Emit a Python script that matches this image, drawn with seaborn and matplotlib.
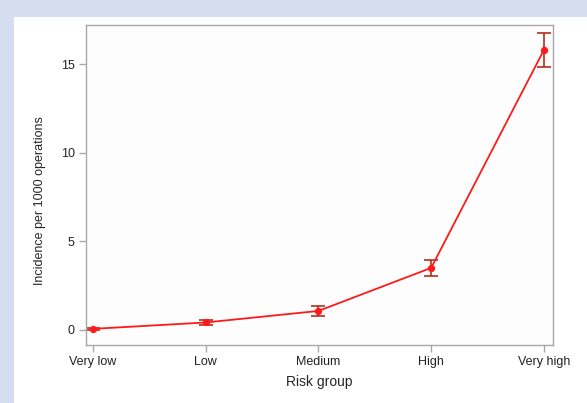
import numpy as np
import pandas as pd
import matplotlib
matplotlib.use("Agg")
import matplotlib.pyplot as plt
from matplotlib.patches import Rectangle
import seaborn as sns

# values
groups = ["Very low", "Low", "Medium", "High", "Very high"]
incidence = [0.06, 0.42, 1.07, 3.5, 15.8]
ci_low = [0.01, 0.30, 0.80, 3.07, 14.85]
ci_high = [0.11, 0.55, 1.35, 3.97, 16.75]

sns.set_style("white")
plt.rcParams["font.family"] = ["Liberation Sans", "DejaVu Sans"]

df = pd.DataFrame({"pos": np.arange(len(groups)), "rate": incidence})

fig = plt.figure(figsize=(5.87, 4.03), dpi=100)
fig.patch.set_facecolor("#d5ddef")
# white panel behind the chart
fig.patches.append(Rectangle((14 / 587, 0), 1, 1 - 17 / 403, transform=fig.transFigure,
                             facecolor="white", edgecolor="none", zorder=-10))

ax = fig.add_axes([86 / 587, 58 / 403, (553 - 86) / 587, (345 - 25) / 403])
ax.set_zorder(5)
ax.set_facecolor("#fdfdfd")

# confidence intervals
yerr = [np.array(incidence) - np.array(ci_low), np.array(ci_high) - np.array(incidence)]
ax.errorbar(df["pos"], df["rate"], yerr=yerr, fmt="none", ecolor="#b0301e",
            elinewidth=1.2, capsize=5, capthick=1.2, zorder=2)

sns.lineplot(data=df, x="pos", y="rate", color="#ff1a1a", marker="o", markersize=4.5,
             markeredgecolor="#ff1a1a", linewidth=1.3, ax=ax, zorder=3)

ax.set_xlim(-0.06, 4.08)
ax.set_ylim(-0.85, 17.2)
ax.set_xticks(range(len(groups)))
ax.set_xticklabels(groups)
ax.set_yticks([0, 5, 10, 15])
ax.set_xlabel("Risk group", fontsize=10, labelpad=5)
ax.set_ylabel("Incidence per 1000 operations", fontsize=9)
ax.yaxis.set_label_coords(-0.085, 0.45)

for s in ax.spines.values():
    s.set_color("#a8a8a8")
    s.set_linewidth(1)
ax.tick_params(axis="both", which="both", direction="out", length=5, width=1,
               color="#a8a8a8", labelsize=9, labelcolor="#222222", pad=3,
               left=True, bottom=True)

fig.savefig("out.png", dpi=100, facecolor=fig.get_facecolor())
